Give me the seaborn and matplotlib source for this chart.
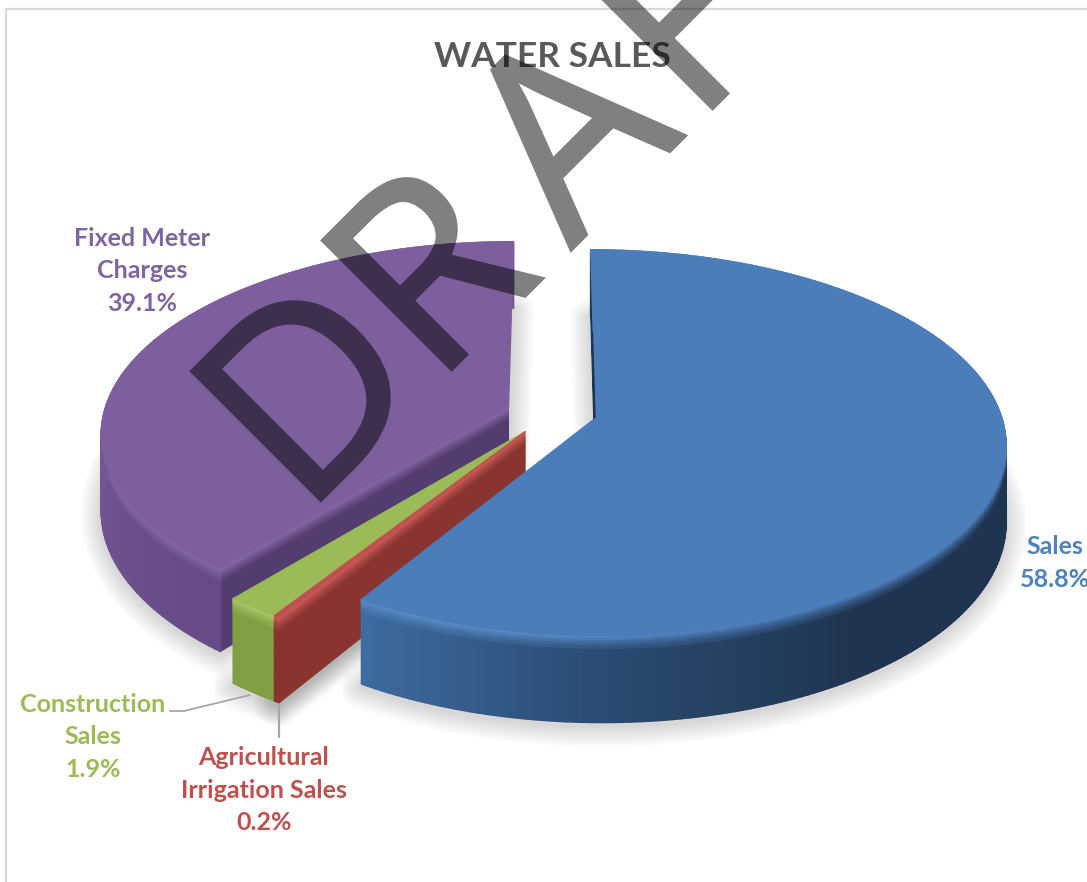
import numpy as np
import matplotlib
matplotlib.use("Agg")
import matplotlib.pyplot as plt
import matplotlib.patheffects as pe
from matplotlib.collections import PolyCollection
from matplotlib.colors import to_rgb
import seaborn as sns

# Share of water sales revenue, clockwise from twelve o'clock
categories = ["Sales", "Agricultural\nIrrigation Sales", "Construction\nSales", "Fixed Meter\nCharges"]
shares = [58.8, 0.2, 1.9, 39.1]
title_text = "WATER SALES"
watermark_letters = list("DRAFT")

sns.set_theme(style="white")
plt.rcParams["font.family"] = ["Lato", "DejaVu Sans"]

top_colors = sns.color_palette(["#4b7dba", "#c0504d", "#9bbb59", "#7d5f9e"])
text_colors = sns.color_palette(["#4f81bd", "#c0504d", "#9bbb59", "#8064a2"])
rim_colors = ["#5c8fcb", "#cf5f5a", "#adcb6a", "#8a6cab"]
# wall colour stops along each slice, as (angle in degrees, colour)
wall_stops = [
    [(0, "#1e3450"), (145, "#1e3450"), (180, "#2a4b73"), (212, "#3e6da1")],
    [(0, "#8a3430"), (360, "#8a3430")],
    [(0, "#7f9f43"), (360, "#7f9f43")],
    [(0, "#775a98"), (270, "#735694"), (222, "#674b88")],
]
cut_colors = ["#1e3450", "#8a3430", "#7f9f43", "#533c6f"]
# explosion of every slice in disc units (right, towards the viewer)
explode = [(0.108, 0.015), (-0.066, 0.088), (-0.066, 0.088), (-0.108, -0.04)]

# projection of the disc onto the figure, in pixels
CX, CY, A, B, K, DEPTH = 552.0, 415.0, 405.0, 189.0, 0.13, 75.0


def project(u, v, z=0.0):
    s = 1.0 / (1.0 - K * v)
    return CX + A * u * s, CY + (B * v + z) * s


def mix(c1, c2, m):
    a, b = np.array(to_rgb(c1)), np.array(to_rgb(c2))
    return tuple(a + (b - a) * m)


def wall_colour(stops, ang):
    stops = sorted(stops)
    ts = [p[0] for p in stops]
    rgb = np.array([to_rgb(p[1]) for p in stops])
    return tuple(np.interp(ang, ts, rgb[:, i]) for i in range(3))


def rim_points(off, t0, t1, n):
    t = np.radians(np.linspace(t0, t1, n))
    return off[0] + np.sin(t), off[1] - np.cos(t)


def half_alpha(image, dpi):
    # the letter and its outline are drawn opaque, then made translucent as one shape
    out = image.copy()
    out[..., 3] *= 0.5
    return out, 0, 0


fig = plt.figure(figsize=(10.87, 8.82), dpi=100, facecolor="white")
ax = fig.add_axes([0, 0, 1, 1])
ax.set_xlim(0, 1087)
ax.set_ylim(882, 0)
ax.axis("off")

# chart frame, only its top and left edges are on the sheet
ax.plot([6, 6, 1087], [882, 9, 9], color="#d9d9d9", lw=1.6, zorder=1)

edges = np.concatenate([[0], np.cumsum(shares)]) * 3.6
bands = np.array([0, .03, .06, .09, .12, .16, .22, .4, .7, 1.0])

# soft contact shadow below the slices
for (start, end, off) in zip(edges[:-1], edges[1:], explode):
    u, v = rim_points(off, start, end, 160)
    u = np.r_[off[0], u]
    v = np.r_[off[1], v]
    x, y = project(u, v, DEPTH + 3)
    for w in np.linspace(3, 30, 10):
        ax.fill(x, y, facecolor="none", edgecolor=(0, 0, 0, 0.014), lw=w, zorder=2, joinstyle="round")


def band_colour(base, rim, f):
    return mix(rim, base, min(1.0, f / 0.16) ** 0.8)


# slices painted back to front
for order, idx in enumerate([3, 2, 1, 0]):
    start, end, off = edges[idx], edges[idx + 1], explode[idx]
    z0 = 3 + order * 3

    # radial cut face on the leading side of the slice
    ru, rv = rim_points(off, start, start, 1)
    rs = np.array([0.0, 1.0])
    cu, cv = off[0] + (ru[0] - off[0]) * rs, off[1] + (rv[0] - off[1]) * rs
    polys, cols = [], []
    for b in range(len(bands) - 1):
        x00, y00 = project(cu[0], cv[0], DEPTH * bands[b])
        x10, y10 = project(cu[1], cv[1], DEPTH * bands[b])
        x11, y11 = project(cu[1], cv[1], DEPTH * bands[b + 1])
        x01, y01 = project(cu[0], cv[0], DEPTH * bands[b + 1])
        polys.append([(x00, y00), (x10, y10), (x11, y11), (x01, y01)])
        cols.append(band_colour(cut_colors[idx], rim_colors[idx], bands[b]))
    ax.add_collection(PolyCollection(polys, facecolors=cols, edgecolors=cols, linewidths=0.8, zorder=z0))

    # outer wall, shaded along the arc and rounded off towards the top face
    n = max(6, int((end - start) * 1.0))
    angs = np.linspace(start, end, n)
    wu, wv = rim_points(off, start, end, n)
    polys, cols = [], []
    for j in range(n - 1):
        base = wall_colour(wall_stops[idx], angs[j])
        # the highlight along the rim fades out on the shaded right-hand side
        rim = mix(top_colors[idx], rim_colors[idx], np.clip((angs[j] - 150) / 40, 0, 1))
        for b in range(len(bands) - 1):
            x00, y00 = project(wu[j], wv[j], DEPTH * bands[b])
            x10, y10 = project(wu[j + 1], wv[j + 1], DEPTH * bands[b])
            x11, y11 = project(wu[j + 1], wv[j + 1], DEPTH * bands[b + 1])
            x01, y01 = project(wu[j], wv[j], DEPTH * bands[b + 1])
            polys.append([(x00, y00), (x10, y10), (x11, y11), (x01, y01)])
            cols.append(band_colour(base, rim, bands[b]))
    ax.add_collection(PolyCollection(polys, facecolors=cols, edgecolors=cols, linewidths=1.3, zorder=z0 + 1))

    # top face
    tu, tv = rim_points(off, start, end, 240)
    x, y = project(np.r_[off[0], tu], np.r_[off[1], tv])
    ax.fill(x, y, facecolor=top_colors[idx], edgecolor=top_colors[idx], lw=1.0, zorder=z0 + 2, joinstyle="round")

# thin dark seam on the inner edge of the largest slice
sx, sy = project(np.array([explode[0][0], explode[0][0]]), np.array([explode[0][1] - 0.48, explode[0][1]]))
ax.plot(sx - 0.8, sy, color="#1e3450", lw=1.0, zorder=20)

# data labels
label_pos = [(1055, 563), (264, 790), (93, 737), (142, 271)]
for cat, share, col, (lx, ly) in zip(categories, shares, text_colors, label_pos):
    ax.text(lx, ly, f"{cat}\n{share:.1f}%", color=col, ha="center", va="center",
            fontsize=18, fontweight="bold", linespacing=1.5, zorder=30)

# leader lines to the two thin slices
ax.plot([170, 184, 250], [711, 711, 695], color="#a6a6a6", lw=1.3, zorder=25)
ax.plot([279, 279], [705, 737], color="#a6a6a6", lw=1.6, zorder=25)

ax.text(552, 57, title_text, color="#595959", ha="center", va="center",
        fontsize=25.5, fontweight="bold", zorder=31)

# diagonal watermark across the sheet, one letter at a time along the baseline
wm_start = np.array([318.0, 503.0])
wm_dir = np.array([1.0, -1.0]) / np.sqrt(2)
wm_advance = [-21, 164, 358, 533, 690]
for letter, d in zip(watermark_letters, wm_advance):
    px, py = wm_start + wm_dir * d
    mark = ax.text(px, py, letter, color="black", rotation=45, rotation_mode="anchor",
                   ha="left", va="baseline", fontsize=184, family="Open Sans", zorder=40)
    mark.set_path_effects([pe.withStroke(linewidth=2.5, foreground="black", joinstyle="miter")])
    mark.set_agg_filter(half_alpha)

fig.savefig("out.png", dpi=100, facecolor="white")
